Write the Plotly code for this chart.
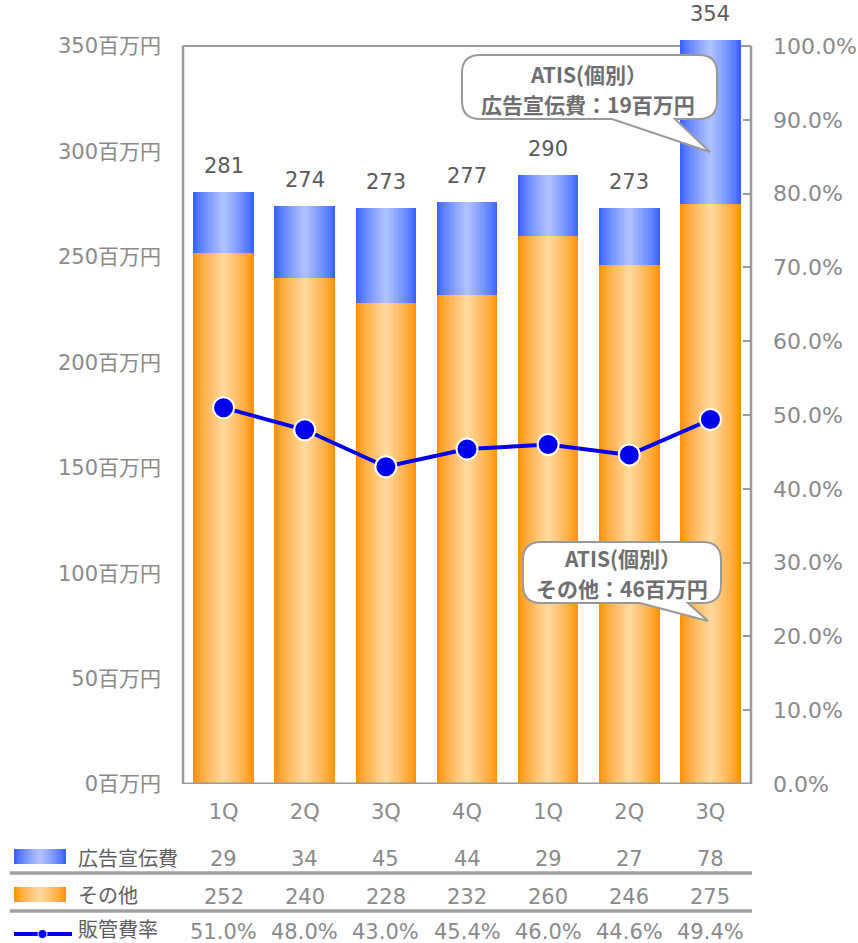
import plotly.graph_objects as go

# ---- data ----
quarters = ["1Q", "2Q", "3Q", "4Q", "1Q", "2Q", "3Q"]
ad_cost = [29, 34, 45, 44, 29, 27, 78]          # 広告宣伝費
other_cost = [252, 240, 228, 232, 260, 246, 275]  # その他
totals = [281, 274, 273, 277, 290, 273, 354]
sga_ratio = [51.0, 48.0, 43.0, 45.4, 46.0, 44.6, 49.4]  # 販管費率 (%)
left_ticks = [0, 50, 100, 150, 200, 250, 300, 350]
right_ticks = [0, 10, 20, 30, 40, 50, 60, 70, 80, 90, 100]
row_labels = ["広告宣伝費", "その他", "販管費率"]
callout1_lines = ["ATIS(個別）", "広告宣伝費：19百万円"]
callout2_lines = ["ATIS(個別）", "その他：46百万円"]

# ---- layout geometry (screen pixels) ----
W, H = 858, 943
L, R, T, B = 183, 751, 25, 784   # plot area
PW, PH = R - L, B - T
YMAX = 360

def px(x):
    return (x - L) / PW

def py(y):
    return (B - y) / PH

FONT = "DejaVu Sans, Noto Sans CJK JP, sans-serif"
GRAY = "#8a8a8a"
AXIS = "#9a9a9a"

x = list(range(len(quarters)))
fig = go.Figure()

def lerp(c1, c2, t):
    return "rgb(%d,%d,%d)" % tuple(round(a + (b - a) * t) for a, b in zip(c1, c2))

BW = 0.745
N = 18
orange_edge, orange_mid = (255, 146, 10), (255, 216, 156)
blue_edge, blue_mid = (58, 98, 255), (174, 193, 255)

for k in range(N):
    t = (k / (N - 1)) ** 0.8
    w = BW * (1 - k / N)
    fig.add_trace(go.Bar(x=x, y=other_cost, base=[0] * len(x), width=w,
                         marker=dict(color=lerp(orange_edge, orange_mid, t), line=dict(width=0)),
                         showlegend=False, hoverinfo="skip"))
    fig.add_trace(go.Bar(x=x, y=ad_cost, base=other_cost, width=w,
                         marker=dict(color=lerp(blue_edge, blue_mid, t), line=dict(width=0)),
                         showlegend=False, hoverinfo="skip"))

fig.add_trace(go.Scatter(x=x, y=sga_ratio, yaxis="y2", mode="lines+markers",
                         line=dict(color="#0000EE", width=4),
                         marker=dict(size=21, color="#0000EE", line=dict(color="white", width=2)),
                         showlegend=False, hoverinfo="skip"))

annotations = []
# totals above bars
for xi, tot, o, a in zip(x, totals, other_cost, ad_cost):
    annotations.append(dict(x=xi, y=o + a, xref="x", yref="y", text=str(tot), showarrow=False,
                            xanchor="center", yanchor="middle", yshift=26,
                            font=dict(family=FONT, size=21, color="#5a5a5a")))

# table values
rows_y = [859, 897, 932]
for xi, a, o, r in zip(x, ad_cost, other_cost, sga_ratio):
    for yy, txt in zip(rows_y, [str(a), str(o), "%.1f%%" % r]):
        annotations.append(dict(x=xi, y=py(yy), xref="x", yref="paper", text=txt, showarrow=False,
                                xanchor="center", yanchor="middle",
                                font=dict(family=FONT, size=21, color=GRAY)))
# row labels
for yy, txt in zip([857, 894, 928], row_labels):
    annotations.append(dict(x=px(76), y=py(yy), xref="paper", yref="paper", text=txt, showarrow=False,
                            xanchor="left", yanchor="middle",
                            font=dict(family="Noto Sans CJK JP", size=20, color="#5e5e5e")))

# callout texts (one annotation per line)
for (cx, cy), lines in [((588, 73.5), callout1_lines), ((622, 557.5), callout2_lines)]:
    for i, txt in enumerate(lines):
        annotations.append(dict(x=px(cx), y=py(cy + 30.5 * i), xref="paper", yref="paper", showarrow=False,
                                xanchor="center", yanchor="middle", text="<b>%s</b>" % txt,
                                font=dict(family="Noto Sans CJK JP", size=21, color="#6e6e6e")))

shapes = []
# frame lines (below bars)
shapes.append(dict(type="line", xref="paper", yref="y", x0=0, x1=0, y0=0, y1=350,
                   line=dict(color=AXIS, width=2.5), layer="below"))
shapes.append(dict(type="line", xref="paper", yref="y", x0=1, x1=1, y0=0, y1=350,
                   line=dict(color=AXIS, width=2.5), layer="below"))
shapes.append(dict(type="line", xref="paper", yref="y", x0=0, x1=1, y0=350, y1=350,
                   line=dict(color=AXIS, width=2), layer="below"))
shapes.append(dict(type="line", xref="paper", yref="y", x0=0, x1=1, y0=0, y1=0,
                   line=dict(color=AXIS, width=3), layer="above"))

def callout(x0, x1, y0, y1, tb0, tb1, tip, r=18):
    def P(a, b):
        return "%f,%f" % (px(a), py(b))
    d = "M%s L%s Q%s %s L%s Q%s %s L%s L%s L%s L%s Q%s %s L%s Q%s %s Z" % (
        P(x0 + r, y0), P(x1 - r, y0), P(x1, y0), P(x1, y0 + r), P(x1, y1 - r), P(x1, y1), P(x1 - r, y1),
        P(tb1, y1), P(tip[0], tip[1]), P(tb0, y1), P(x0 + r, y1), P(x0, y1), P(x0, y1 - r),
        P(x0, y0 + r), P(x0, y0), P(x0 + r, y0))
    return dict(type="path", xref="paper", yref="paper", path=d, fillcolor="white",
                line=dict(color="#999999", width=2), layer="above")

shapes.append(callout(462, 717, 55, 119, 612, 675, (710, 152)))
shapes.append(callout(523, 721, 542, 603, 640, 688, (708, 621)))

# table separators
for yy in [873, 911]:
    shapes.append(dict(type="line", xref="paper", yref="paper", x0=px(10), x1=px(752), y0=py(yy), y1=py(yy),
                       line=dict(color="#a0a0a0", width=3.5)))

# legend icons with gradients
def grad_icon(xa, xb, ya, yb, edge, mid):
    n = 10
    out = []
    cx = (xa + xb) / 2
    hw = (xb - xa) / 2
    for k in range(n):
        t = (k / (n - 1)) ** 0.8
        w = hw * (1 - k / n)
        out.append(dict(type="rect", xref="paper", yref="paper", x0=px(cx - w), x1=px(cx + w),
                        y0=py(yb), y1=py(ya), fillcolor=lerp(edge, mid, t), line=dict(width=0)))
    return out

shapes += grad_icon(14, 66, 849, 864, blue_edge, blue_mid)
shapes += grad_icon(14, 66, 887, 902, orange_edge, orange_mid)
shapes.append(dict(type="line", xref="paper", yref="paper", x0=px(14), x1=px(72), y0=py(934), y1=py(934),
                   line=dict(color="#0000EE", width=4)))
shapes.append(dict(type="circle", xref="paper", yref="paper", x0=px(38), x1=px(47), y0=py(938.5), y1=py(929.5),
                   fillcolor="#0000EE", line=dict(color="white", width=1)))

fig.update_layout(
    width=W, height=H, autosize=False,
    margin=dict(l=L, r=W - R, t=T, b=H - B, pad=0, autoexpand=False),
    paper_bgcolor="white", plot_bgcolor="white",
    barmode="overlay", bargap=0,
    showlegend=False,
    xaxis=dict(range=[-0.5, len(x) - 0.5], tickvals=x, ticktext=quarters, showgrid=False,
               zeroline=False, showline=False, ticks="", ticklabelstandoff=13, automargin=False,
               tickfont=dict(family=FONT, size=21, color=GRAY), fixedrange=True),
    yaxis=dict(range=[0, YMAX], tickvals=left_ticks, ticktext=["%d百万円" % v for v in left_ticks],
               showgrid=False, zeroline=False, showline=False, ticks="", ticklabelstandoff=21,
               automargin=False, tickfont=dict(family=FONT, size=21, color=GRAY)),
    yaxis2=dict(range=[0, 100 * YMAX / 350], overlaying="y", side="right", tickvals=right_ticks,
                ticktext=["%.1f%%" % v for v in right_ticks], showgrid=False, zeroline=False,
                showline=False, ticks="inside", ticklen=8, tickwidth=2, tickcolor=AXIS,
                ticklabelstandoff=21, automargin=False, tickfont=dict(family=FONT, size=22, color=GRAY)),
    annotations=annotations,
    shapes=shapes,
)

fig.write_html("out.html", config={"displayModeBar": False, "staticPlot": True},
               post_script="document.body.style.margin='0';document.body.style.overflow='hidden';")
